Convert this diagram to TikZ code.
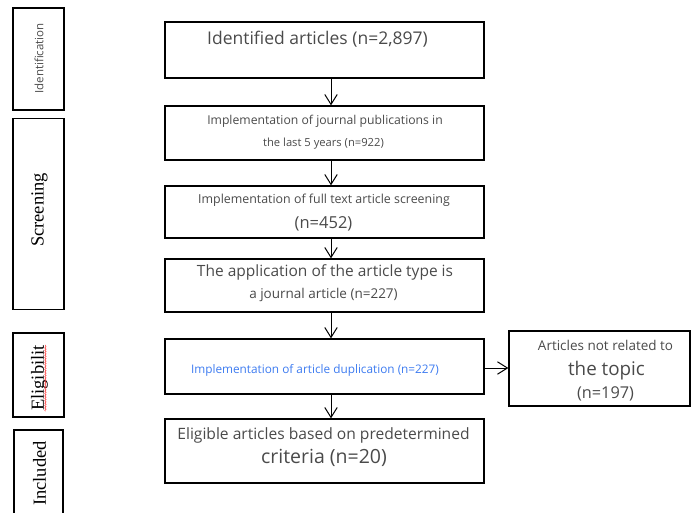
\documentclass[tikz,border=0pt]{standalone}
\usepackage{fontspec}
\setmainfont{Open Sans}
\newfontfamily\phaseserif{Liberation Serif}
\usetikzlibrary{arrows.meta,decorations.pathmorphing}
\definecolor{bodygray}{HTML}{4A4A4A}
\definecolor{dupblue}{HTML}{3D7BF0}

\begin{document}
\begin{tikzpicture}[x=1pt, y=-1pt,
  stepbox/.style={draw, line width=1.3pt, minimum width=319pt, inner sep=0pt},
  phasebox/.style={draw, line width=1.3pt, minimum width=51pt, inner sep=0pt},
  phaselabel/.style={rotate=90, inner sep=0pt, font=\phaseserif\fontsize{18.5}{20}\selectfont},
  txt/.style={inner sep=0pt, text=bodygray},
  flow/.style={-{Straight Barb[length=10pt,width=12.5pt]}, line width=1pt},
  squiggle/.style={red!80, line width=0.5pt, decorate, decoration={snake, amplitude=0.7pt, segment length=2.4pt}}
]
\useasboundingbox (0,0) rectangle (691,512);
\clip (0,0) rectangle (691,512);

% Phase column (Left)
\node[phasebox, minimum height=102pt] (identph) at (38.5,59) {};
\node[rotate=90, inner sep=0pt, text=bodygray, font=\fontsize{11.5}{13}\selectfont] (identlab) at (39,58.5) {Identification};
\node[phasebox, minimum height=191pt] (screenph) at (38.5,214) {};
\node[phaselabel] (screenlab) at (39.5,210) {Screening};
\node[phasebox, minimum height=84pt] (eligph) at (38.5,375) {};
\node[phaselabel] (eliglab) at (39.5,378) {Eligibilit};
\draw[squiggle] ([xshift=1.5pt]eliglab.base west) -- ([xshift=1.5pt]eliglab.base east);
\node[phasebox, minimum width=49pt, minimum height=110pt] (inclph) at (38.5,485) {};
\node[phaselabel] (incllab) at (39.5,473.5) {Included};

% Flow boxes (Middle)
\node[stepbox, minimum height=56pt] (ident) at (324.5,50) {};
\node[txt, font=\fontsize{17.5}{20}\selectfont] (identt) at (317.5,39.5) {Identified articles (n=2,897)};

\node[stepbox, minimum height=54pt] (journal) at (324.5,133) {};
\node[txt, font=\fontsize{12.2}{14}\selectfont] (journalt1) at (325,121.5) {Implementation of journal publications in};
\node[txt, font=\fontsize{11.2}{13}\selectfont] (journalt2) at (323.5,143.5) {the last 5 years (n=922)};

\node[stepbox, minimum height=52pt] (fulltext) at (324.5,212) {};
\node[txt, font=\fontsize{12.4}{14}\selectfont] (fulltextt1) at (324,200.5) {Implementation of full text article screening};
\node[txt, font=\fontsize{16.5}{19}\selectfont] (fulltextt2) at (323.5,223.5) {(n=452)};

\node[stepbox, minimum height=53pt] (arttype) at (324.5,285.5) {};
\node[txt, font=\fontsize{15.5}{18}\selectfont] (arttypet1) at (325,272) {The application of the article type is};
\node[txt, font=\fontsize{13.5}{16}\selectfont] (arttypet2) at (323.5,295) {a journal article (n=227)};

\node[stepbox, minimum height=55pt] (dup) at (324.5,366.5) {};
\node[inner sep=0pt, text=dupblue, font=\fontsize{11.8}{14}\selectfont] (dupt) at (315,370.5) {Implementation of article duplication (n=227)};

\node[stepbox, minimum height=64pt] (elig) at (324.5,451) {};
\node[txt, font=\fontsize{15.6}{18}\selectfont] (eligt1) at (323.5,435) {Eligible articles based on predetermined};
\node[txt, font=\fontsize{19.5}{22}\selectfont] (eligt2) at (324,457.5) {criteria (n=20)};

% Excluded box (Right)
\node[stepbox, minimum width=181pt, minimum height=75pt] (unrel) at (599.5,368.5) {};
\node[txt, font=\fontsize{13.5}{16}\selectfont] (unrelt1) at (605.5,345) {Articles not related to};
\node[txt, font=\fontsize{18.8}{21}\selectfont] (unrelt2) at (606.5,370.5) {the topic};
\node[txt, font=\fontsize{16.3}{19}\selectfont] (unrelt3) at (605.5,394) {(n=197)};

% Arrows
\draw[flow] ([xshift=6.5pt]ident.south) -- ([xshift=6.5pt]journal.north);
\draw[flow] ([xshift=6.5pt]journal.south) -- ([xshift=6.5pt]fulltext.north);
\draw[flow] ([xshift=6.5pt]fulltext.south) -- ([xshift=6.5pt]arttype.north);
\draw[flow] ([xshift=6.5pt]arttype.south) -- ([xshift=6.5pt]dup.north);
\draw[flow] ([xshift=6.5pt]dup.south) -- ([xshift=6.5pt]elig.north);
\draw[flow] ([yshift=-1.5pt]dup.east) -- ([yshift=-1.5pt]dup.east -| unrel.west);
\end{tikzpicture}
\end{document}
